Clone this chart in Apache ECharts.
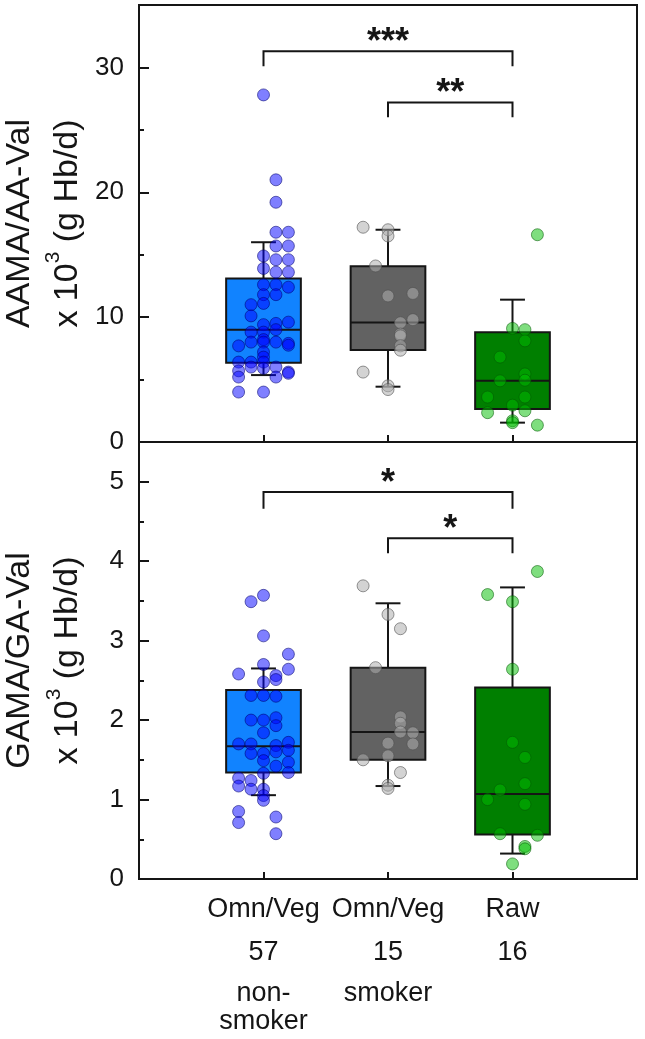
<!DOCTYPE html>
<html>
<head>
<meta charset="utf-8">
<script src="https://cdn.jsdelivr.net/npm/echarts@6/dist/echarts.min.js"></script>
<style>html,body{margin:0;padding:0;background:#fff}#c{width:645px;height:1039px}</style>
</head>
<body>
<div id="c"></div>
<script>
// ---------- data ----------
const categories = ['Omn/Veg', 'Omn/Veg', 'Raw'];
const counts = ['57', '15', '16'];
const smokingStatus = ['non-\nsmoker', 'smoker', ''];
const groupPos = [1, 2, 3];

const aamaTicks = [0, 10, 20, 30];
const aamaMinorTicks = [5, 15, 25];
const gamaTicks = [0, 1, 2, 3, 4, 5];
const gamaMinorTicks = [0.5, 1.5, 2.5, 3.5, 4.5];

// box stats: [lower whisker, Q1, median, Q3, upper whisker]
const aamaBox = [
  [5.36, 6.35, 9.0, 13.1, 16.0],
  [4.43, 7.36, 9.57, 14.08, 17.0],
  [1.55, 2.64, 4.9, 8.8, 11.4]
];
const gamaBox = [
  [1.055, 1.34, 1.67, 2.38, 2.65],
  [1.17, 1.50, 1.85, 2.66, 3.47],
  [0.32, 0.56, 1.07, 2.41, 3.67]
];

// individual points: values and jitter slot (-2..2)
const aamaNonSmokerVal = [27.8,21.0,19.2,16.8,16.8,15.7,15.7,14.9,14.6,14.6,13.9,13.6,13.6,12.6,12.6,12.4,11.8,11.8,11.0,11.1,10.1,9.4,9.5,9.6,8.8,8.8,9.0,8.2,8.0,7.7,8.0,8.0,7.9,7.75,7.2,6.8,6.4,6.4,6.4,6.0,5.9,6.0,5.7,5.6,5.5,5.2,5.2,4.0,4.0];
const aamaNonSmokerSlot = [0,1,1,1,2,1,2,0,1,2,0,1,2,0,1,2,0,1,-1,0,-1,0,1,2,-1,0,1,0,0,-2,-1,1,2,2,0,0,-2,-1,0,-1,0,1,-2,2,2,-2,1,-2,0];
const aamaSmokerVal = [17.2,17.0,16.5,14.1,11.7,11.9,9.8,9.55,8.65,8.5,7.7,7.35,5.6,4.5,4.2];
const aamaSmokerSlot = [-2,0,0,-1,0,2,2,1,1,1,1,1,-2,0,0];
const aamaRawVal = [16.6,9.1,9.0,8.1,6.8,5.45,4.9,4.95,3.6,3.6,2.95,2.35,2.5,1.7,1.55,1.35];
const aamaRawSlot = [2,0,1,1,-1,1,-1,1,-2,1,0,-2,1,0,0,2];

const gamaNonSmokerVal = [3.49,3.57,3.06,2.83,2.64,2.58,2.70,2.56,2.51,2.48,2.31,2.31,2.30,2.0,2.0,2.03,1.93,1.84,1.70,1.70,1.58,1.58,1.49,1.68,1.60,1.72,1.62,1.42,1.47,1.34,1.33,1.27,1.24,1.17,1.13,1.13,1.05,0.99,0.85,0.71,0.78,0.57];
const gamaNonSmokerSlot = [-1,0,0,2,2,-2,0,1,1,0,-1,0,1,-1,0,1,1,0,-2,-1,-1,0,0,1,1,2,2,1,2,2,0,-2,-1,-2,-1,0,0,0,-2,-2,1,1];
const gamaSmokerVal = [3.69,3.33,3.15,2.66,2.04,1.96,1.85,1.84,1.70,1.71,1.55,1.50,1.34,1.18,1.14];
const gamaSmokerSlot = [-2,0,1,-1,1,1,1,2,2,0,0,-2,1,0,0];
const gamaRawVal = [3.87,3.58,3.49,2.64,1.72,1.53,1.20,1.12,1.0,0.94,0.57,0.55,0.41,0.38,0.19];
const gamaRawSlot = [2,-2,0,0,0,1,1,-1,-2,1,-1,2,1,1,0];

// significance brackets: from group, to group, bracket level, tick end, label
const aamaSigFrom = [1, 2];
const aamaSigTo = [3, 3];
const aamaSigLevel = [31.3, 27.2];
const aamaSigTick = [30.1, 26.0];
const aamaSigText = ['***', '**'];
const gamaSigFrom = [1, 2];
const gamaSigTo = [3, 3];
const gamaSigLevel = [4.87, 4.29];
const gamaSigTick = [4.66, 4.10];
const gamaSigText = ['*', '*'];

// ---------- styles ----------
const FONT = "'Liberation Sans', Arial, sans-serif";
const INK = '#151515';
const boxFill = ['#1183FF', '#626262', '#007F00'];
const dotFill = ['rgba(0,0,255,0.5)', 'rgba(175,175,175,0.55)', 'rgba(0,190,0,0.5)'];
const dotStroke = ['rgba(0,0,110,0.55)', 'rgba(80,80,80,0.6)', 'rgba(0,90,0,0.55)'];

function renderBox(params, api) {
  const x = api.value(0), lo = api.value(1), q1 = api.value(2), md = api.value(3), q3 = api.value(4), hi = api.value(5);
  const hw = 0.3, cw = 0.1;
  const tl = api.coord([x - hw, q3]), br = api.coord([x + hw, q1]);
  const mL = api.coord([x - hw, md]), mR = api.coord([x + hw, md]);
  const top = api.coord([x, hi]), q3c = api.coord([x, q3]), q1c = api.coord([x, q1]), bot = api.coord([x, lo]);
  const capTL = api.coord([x - cw, hi]), capTR = api.coord([x + cw, hi]);
  const capBL = api.coord([x - cw, lo]), capBR = api.coord([x + cw, lo]);
  const ls = {stroke: INK, lineWidth: 2};
  return {type: 'group', children: [
    {type: 'line', shape: {x1: top[0], y1: top[1], x2: q3c[0], y2: q3c[1]}, style: ls},
    {type: 'line', shape: {x1: q1c[0], y1: q1c[1], x2: bot[0], y2: bot[1]}, style: ls},
    {type: 'line', shape: {x1: capTL[0], y1: capTL[1], x2: capTR[0], y2: capTR[1]}, style: ls},
    {type: 'line', shape: {x1: capBL[0], y1: capBL[1], x2: capBR[0], y2: capBR[1]}, style: ls},
    {type: 'rect', shape: {x: tl[0], y: tl[1], width: br[0] - tl[0], height: br[1] - tl[1]}, style: {fill: boxFill[params.dataIndex], stroke: INK, lineWidth: 2}},
    {type: 'line', shape: {x1: mL[0], y1: mL[1], x2: mR[0], y2: mR[1]}, style: ls}
  ]};
}

function makeSigRenderer(texts) {
  return function (params, api) {
    const a = api.value(0), b = api.value(1), lvl = api.value(2), tk = api.value(3);
    const p1 = api.coord([a, tk]), p2 = api.coord([a, lvl]), p3 = api.coord([b, lvl]), p4 = api.coord([b, tk]);
    const mid = api.coord([(a + b) / 2, lvl]);
    return {type: 'group', children: [
      {type: 'polyline', shape: {points: [p1, p2, p3, p4]}, style: {fill: 'none', stroke: INK, lineWidth: 2}},
      {type: 'text', style: {text: texts[params.dataIndex], x: mid[0], y: mid[1] - 8, align: 'center', verticalAlign: 'middle', font: 'bold 36px ' + FONT, fill: INK}}
    ]};
  };
}

function boxData(stats) { return stats.map((s, i) => [groupPos[i]].concat(s)); }
function pts(vals, slots, g) { return vals.map((v, i) => [groupPos[g] + slots[i] * 0.1, v]); }
function sigData(from, to, lvl, tk) { return from.map((f, i) => [f, to[i], lvl[i], tk[i]]); }

function scatter(data, g, xi, yi) {
  return {type: 'scatter', xAxisIndex: xi, yAxisIndex: yi, data: data, symbolSize: 12, z: 5,
    itemStyle: {color: dotFill[g], borderColor: dotStroke[g], borderWidth: 1, opacity: 1}, silent: true};
}

const tickStyle = {color: INK, width: 2};
const xBase = {type: 'value', position: 'bottom', min: 0, max: 4, splitLine: {show: false}, axisLine: {show: false}};
const xLabelBase = {show: true, customValues: groupPos, fontSize: 27, fontFamily: FONT, color: INK, lineHeight: 28, margin: 17};

function yMain(grid, min, max, ticks, name) {
  return {type: 'value', gridIndex: grid, position: 'left', min: min, max: max, splitLine: {show: false}, axisLine: {show: false},
    axisTick: {show: true, inside: true, length: 10, customValues: ticks, lineStyle: tickStyle},
    axisLabel: {show: true, customValues: ticks, fontSize: 26, fontFamily: FONT, color: INK, margin: 15},
    name: name, nameLocation: 'middle', nameRotate: 90, nameGap: 47,
    nameTextStyle: {fontFamily: FONT, color: INK, rich: {
      r: {fontSize: 34, fontFamily: FONT, color: INK, lineHeight: 48},
      s: {fontSize: 21, fontFamily: FONT, color: INK, lineHeight: 21, verticalAlign: 'top'}
    }}};
}
function yMinor(grid, min, max, ticks) {
  return {type: 'value', gridIndex: grid, position: 'left', min: min, max: max, splitLine: {show: false}, axisLine: {show: false},
    axisTick: {show: true, inside: true, length: 5, customValues: ticks, lineStyle: tickStyle},
    axisLabel: {show: false}};
}

const gridBase = {left: 139, right: 8, height: 437, show: true, borderColor: INK, borderWidth: 2, backgroundColor: 'transparent', containLabel: false, outerBoundsMode: 'none'};

const option = {
  animation: false,
  backgroundColor: '#fff',
  grid: [
    Object.assign({top: 5}, gridBase),
    Object.assign({top: 442}, gridBase)
  ],
  xAxis: [
    Object.assign({gridIndex: 0}, xBase, {axisTick: {inside: true, length: 7, customValues: groupPos, lineStyle: tickStyle}, axisLabel: {show: false}}),
    Object.assign({gridIndex: 1}, xBase, {axisTick: {inside: true, length: 7, customValues: groupPos, lineStyle: tickStyle},
      axisLabel: Object.assign({}, xLabelBase, {formatter: v => categories[Math.round(v) - 1]})}),
    Object.assign({gridIndex: 1, offset: 43}, xBase, {axisTick: {show: false},
      axisLabel: Object.assign({}, xLabelBase, {formatter: v => counts[Math.round(v) - 1]})}),
    Object.assign({gridIndex: 1, offset: 84}, xBase, {axisTick: {show: false},
      axisLabel: Object.assign({}, xLabelBase, {lineHeight: 28, formatter: v => smokingStatus[Math.round(v) - 1]})})
  ],
  yAxis: [
    yMain(0, 0, 35, aamaTicks, '{r|AAMA/AA-Val}\n{r|x 10}{s|3}{r| (g Hb/d)}'),
    yMinor(0, 0, 35, aamaMinorTicks),
    yMain(1, 0, 5.5, gamaTicks, '{r|GAMA/GA-Val}\n{r|x 10}{s|3}{r| (g Hb/d)}'),
    yMinor(1, 0, 5.5, gamaMinorTicks)
  ],
  series: [
    {type: 'custom', xAxisIndex: 0, yAxisIndex: 0, renderItem: renderBox, data: boxData(aamaBox), z: 2, silent: true},
    {type: 'custom', xAxisIndex: 1, yAxisIndex: 2, renderItem: renderBox, data: boxData(gamaBox), z: 2, silent: true},
    scatter(pts(aamaNonSmokerVal, aamaNonSmokerSlot, 0), 0, 0, 0),
    scatter(pts(aamaSmokerVal, aamaSmokerSlot, 1), 1, 0, 0),
    scatter(pts(aamaRawVal, aamaRawSlot, 2), 2, 0, 0),
    scatter(pts(gamaNonSmokerVal, gamaNonSmokerSlot, 0), 0, 1, 2),
    scatter(pts(gamaSmokerVal, gamaSmokerSlot, 1), 1, 1, 2),
    scatter(pts(gamaRawVal, gamaRawSlot, 2), 2, 1, 2),
    {type: 'custom', xAxisIndex: 0, yAxisIndex: 0, renderItem: makeSigRenderer(aamaSigText), data: sigData(aamaSigFrom, aamaSigTo, aamaSigLevel, aamaSigTick), z: 6, silent: true, clip: false},
    {type: 'custom', xAxisIndex: 1, yAxisIndex: 2, renderItem: makeSigRenderer(gamaSigText), data: sigData(gamaSigFrom, gamaSigTo, gamaSigLevel, gamaSigTick), z: 6, silent: true, clip: false}
  ]
};

const chart = echarts.init(document.getElementById('c'), null, {renderer: 'canvas'});
chart.setOption(option);
</script>
</body>
</html>
